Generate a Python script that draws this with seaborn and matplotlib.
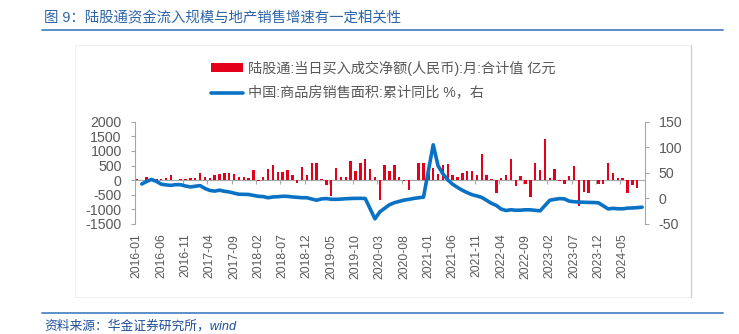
import numpy as np
import pandas as pd
import matplotlib
matplotlib.use("Agg")
import matplotlib.pyplot as plt
import seaborn as sns
from matplotlib.lines import Line2D
from matplotlib.patches import Patch, Rectangle

# ---------------- data ----------------
months = pd.period_range("2016-01", "2024-09", freq="M").strftime("%Y-%m").tolist()

# 陆股通 当月净买入（亿元）
northbound = [
    35, 15, 125, 25, 25, 35, 90, 160, 5, 25, 45, 70,            # 2016
    90, 260, 115, 90, 180, 215, 230, 260, 205, 125, 125, 80,    # 2017
    350, -20, 100, 390, 510, 285, 285, 350, 170, -100, 455, 160,  # 2018
    600, 600, 45, -180, -540, 420, 125, 125, 650, 320, 600, 740,  # 2019
    390, 125, -680, 535, 310, 535, 115, -25, -320, -10, 580, 580,  # 2020
    250, 420, 195, 525, 560, 160, 125, 260, 310, 320, 180, 900,   # 2021
    170, 45, -455, 70, 160, 740, -205, 135, -115, -560, 600, 340,  # 2022
    1425, 90, 365, -15, -115, 150, 480, -890, -390, -455, -10, -135,  # 2023
    -135, 600, 230, 80, 90, -445, -170, -285, np.nan,            # 2024
]

# 商品房销售面积 累计同比（%）
sales_yoy = [
    np.nan, 28.2, 33.1, 37.1, 33.2, 27.9, 26.4, 25.5, 26.9, 26.8, 24.3, 22.5,
    np.nan, 25.1, 19.5, 15.7, 14.3, 16.1, 14.0, 12.7, 10.3, 8.2, 8.0, 7.7,
    np.nan, 4.1, 3.6, 1.3, 2.9, 3.3, 4.2, 4.0, 2.9, 2.2, 1.4, 1.3,
    np.nan, -3.6, -0.9, -0.3, -1.6, -1.8, -1.3, -0.6, -0.1, 0.1, 0.2, -0.1,
    np.nan, -39.9, -26.3, -19.3, -12.3, -8.4, -5.8, -3.3, -1.8, 0.0, 1.3, 2.6,
    np.nan, 104.9, 63.8, 48.1, 36.3, 27.7, 21.5, 15.9, 11.3, 7.2, 4.8, 1.9,
    np.nan, -9.6, -13.8, -20.9, -23.6, -22.2, -23.1, -23.0, -22.2, -22.3, -23.3, -24.3,
    np.nan, -3.6, -1.8, -0.4, -0.9, -5.3, -6.5, -7.1, -7.5, -7.8, -8.0, -8.5,
    np.nan, -20.5, -19.4, -20.2, -20.3, -19.0, -18.6, -18.0, -17.1,
]

left_ticks = [-1500, -1000, -500, 0, 500, 1000, 1500, 2000]
right_ticks = [-50, 0, 50, 100, 150]

title = "图 9：陆股通资金流入规模与地产销售增速有一定相关性"
bar_label = "陆股通:当日买入成交净额(人民币):月:合计值 亿元"
line_label = "中国:商品房销售面积:累计同比 %，右"
source = "资料来源：华金证券研究所，wind"

# ---------------- style ----------------
sns.set_theme(style="white")
plt.rcParams["font.family"] = ["Liberation Sans", "Noto Sans CJK SC", "DejaVu Sans"]

RED = "#E2001A"
BLUE = "#0A72C4"
AXGRAY = "#A6A6A6"
TXT = "#595959"
TITLE_BLUE = "#2E64A8"

W, H = 739, 334
fig = plt.figure(figsize=(W / 100, H / 100), dpi=100)

# faint chart-area border
fig.add_artist(Rectangle((75 / W, 1 - 297 / H), (691 - 75) / W, (297 - 45) / H,
                         transform=fig.transFigure, fill=False,
                         edgecolor="#F0F0F0", lw=0.8))
fig.add_artist(Line2D([691 / W, 691 / W], [1 - 297 / H, 1 - 45 / H],
                      transform=fig.transFigure, color="#CFCFCF", lw=0.9))

ax = fig.add_axes([134.5 / W, 1 - 224 / H, (644.5 - 134.5) / W, (224 - 121.7) / H])
ax2 = ax.twinx()

df = pd.DataFrame({"month": months, "pos": np.arange(len(months)),
                   "nb": northbound, "yoy": sales_yoy})

sns.barplot(data=df, x="month", y="nb", order=months, color=RED, saturation=1,
            width=0.5, errorbar=None, ax=ax, zorder=3,
            linewidth=0, edgecolor="none", antialiased=False)

df_line = df.dropna(subset=["yoy"])
sns.lineplot(data=df_line, x="pos", y="yoy", ax=ax2, color=BLUE, linewidth=2.6,
             sort=True, solid_capstyle="round", solid_joinstyle="round")

ax.set_xlim(-0.5, len(months) - 0.5)
ax.set_ylim(-1500, 2000)
ax2.set_ylim(-50, 150)
ax.set_yticks(left_ticks)
ax.set_yticklabels([str(v) for v in left_ticks])
ax2.set_yticks(right_ticks)
ax2.set_yticklabels([str(v) for v in right_ticks])

ax.set_xticks(range(0, len(months), 5))
ax.set_xticklabels(months[::5], rotation=90)
ax.tick_params(axis="x", length=0, pad=7, labelsize=8.7, labelcolor=TXT)
ax.tick_params(axis="y", left=True, length=3, width=0.8, color=AXGRAY,
               pad=6.2, labelsize=10.2, labelcolor=TXT)
ax2.tick_params(axis="y", right=True, length=3, width=0.8, color=AXGRAY,
                pad=7, labelsize=10.2, labelcolor=TXT)

for a in (ax, ax2):
    a.set_xlabel("")
    a.set_ylabel("")
    a.grid(False)
    for s in a.spines.values():
        s.set_visible(False)
ax.spines["left"].set_visible(True)
ax.spines["left"].set_color(AXGRAY)
ax.spines["left"].set_linewidth(0.8)
ax2.spines["right"].set_visible(True)
ax2.spines["right"].set_color(AXGRAY)
ax2.spines["right"].set_linewidth(0.8)
ax.patch.set_visible(False)

# category axis drawn at the zero line with ticks between categories
sec = ax.secondary_xaxis(1500 / 3500)
sec.set_xticks([4.5 + 5 * k for k in range(20)])
sec.tick_params(axis="x", length=3, width=0.8, color=AXGRAY, labelbottom=False)
sec.spines["bottom"].set_color(AXGRAY)
sec.spines["bottom"].set_linewidth(0.8)
sec.set_zorder(1)

# legend
handles = [Patch(facecolor=RED, edgecolor="none"),
           Line2D([], [], color=BLUE, lw=2.6)]
fig.legend(handles, [bar_label, line_label], loc="upper left",
           bbox_to_anchor=(211 / W, 1 - 60.5 / H), frameon=False,
           fontsize=10.2, handlelength=2.25, handleheight=0.55,
           handletextpad=0.35, labelspacing=0.76, borderpad=0,
           borderaxespad=0, labelcolor=TXT)

# title, rules, source
fig.text(44 / W, 1 - 18 / H, title, fontsize=10.4, color=TITLE_BLUE,
         ha="left", va="center")
fig.add_artist(Line2D([42 / W, 723 / W], [1 - 30 / H, 1 - 30 / H],
                      transform=fig.transFigure, color="#5B8FC9", lw=1.4))
fig.add_artist(Line2D([42 / W, 723 / W], [1 - 313 / H, 1 - 313 / H],
                      transform=fig.transFigure, color="#5B8FC9", lw=1.4))
fig.text(44 / W, 1 - 326 / H, source, fontsize=9.2, color="#1F4E9A",
         style="italic", ha="left", va="center")

fig.savefig("out.png", dpi=100)
